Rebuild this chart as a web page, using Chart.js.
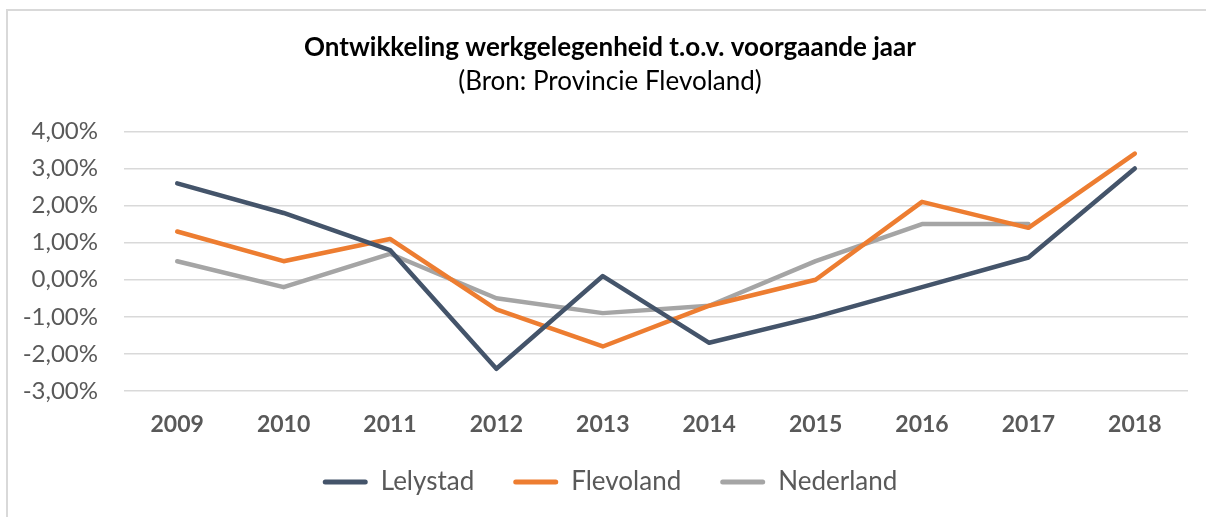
<!DOCTYPE html>
<html>
<head>
<meta charset="utf-8">
<script src="https://cdn.jsdelivr.net/npm/chart.js@4/dist/chart.umd.min.js"></script>
<style>
  html, body { margin: 0; padding: 0; background: #fff; overflow: hidden; }
  #wrap { position: relative; width: 1206px; height: 517px; }
  #frame {
    position: absolute; left: 6px; top: 9px; right: -10px; bottom: -10px;
    border-left: 2px solid #d9d9d9; border-top: 2px solid #d9d9d9;
  }
  #chart-box { position: absolute; left: 0; top: 0; width: 1206px; height: 517px; }
</style>
</head>
<body>
<div id="wrap">
  <div id="frame"></div>
  <div id="chart-box"><canvas id="chart"></canvas></div>
</div>
<script>
const YEARS = ["2009", "2010", "2011", "2012", "2013", "2014", "2015", "2016", "2017", "2018"];
const LELYSTAD = [2.6, 1.8, 0.8, -2.4, 0.1, -1.7, -1.0, -0.2, 0.6, 3.0];
const FLEVOLAND = [1.3, 0.5, 1.1, -0.8, -1.8, -0.7, 0.0, 2.1, 1.4, 3.4];
const NEDERLAND = [0.5, -0.2, 0.7, -0.5, -0.9, -0.7, 0.5, 1.5, 1.5, null];

const SERIES_COLORS = {
  Lelystad: "#44546a",
  Flevoland: "#ed7d31",
  Nederland: "#a5a5a5",
};

const FONT = "Lato, 'Open Sans', sans-serif";
const TEXT_GREY = "#595959";

function pct(v) {
  return v.toFixed(2).replace(".", ",") + "%";
}

function lineSet(label, data) {
  return {
    label,
    data,
    borderColor: SERIES_COLORS[label],
    backgroundColor: SERIES_COLORS[label],
    borderWidth: 4.5,
    borderJoinStyle: "round",
    borderCapStyle: "round",
    pointRadius: 0,
    pointHoverRadius: 0,
    tension: 0,
    spanGaps: false,
  };
}

// title, subtitle and legend are centred over x 32..1188 (like the original),
// and the legend row is pulled up a bit closer to the year labels
const placeBoxes = {
  id: "placeBoxes",
  afterLayout(chart) {
    chart.boxes.forEach((box) => {
      const opts = box.options || {};
      if (opts.text !== undefined || opts.labels) {
        box.left = 32;
        box.right = 1188;
        box.width = box.right - box.left;
      }
      if (opts.labels) {
        const h = box.height;
        box.top = 430;
        box.bottom = 430 + h;
      }
    });
  },
};

const ctx = document.getElementById("chart").getContext("2d");
new Chart(ctx, {
  type: "line",
  data: {
    labels: YEARS,
    datasets: [
      lineSet("Lelystad", LELYSTAD),
      lineSet("Flevoland", FLEVOLAND),
      lineSet("Nederland", NEDERLAND),
    ],
  },
  plugins: [placeBoxes],
  options: {
    responsive: true,
    maintainAspectRatio: false,
    animation: false,
    layout: { padding: { left: 0, right: 18, top: 32, bottom: 3 } },
    plugins: {
      title: {
        display: true,
        text: "Ontwikkeling werkgelegenheid t.o.v. voorgaande jaar",
        color: "#000",
        font: { family: FONT, size: 26, weight: "bold" },
        padding: { top: 0, bottom: 3 },
      },
      subtitle: {
        display: true,
        text: "(Bron: Provincie Flevoland)",
        color: "#000",
        font: { family: FONT, size: 26, weight: "normal" },
        padding: { top: 0, bottom: 34 },
      },
      legend: {
        position: "bottom",
        labels: {
          color: TEXT_GREY,
          font: { family: FONT, size: 26 },
          boxWidth: 45,
          boxHeight: 5,
          padding: 39,
          useBorderRadius: true,
          borderRadius: 2.5,
          generateLabels: (chart) =>
            Chart.defaults.plugins.legend.labels.generateLabels(chart).map((item) => ({
              ...item,
              lineWidth: 0,
            })),
        },
      },
      tooltip: { enabled: false },
    },
    scales: {
      x: {
        offset: true,
        grid: { display: false, drawTicks: false, offset: true },
        border: { display: false },
        ticks: {
          color: TEXT_GREY,
          font: { family: FONT, size: 23, weight: "bold" },
          padding: 20,
          maxRotation: 0,
        },
        afterFit: (scale) => { scale.height = 48; },
      },
      y: {
        min: -3,
        max: 4,
        grid: { color: "#d9d9d9", lineWidth: 1.5, drawTicks: false },
        border: { display: false },
        ticks: {
          stepSize: 1,
          color: TEXT_GREY,
          font: { family: FONT, size: 24 },
          padding: 26,
          callback: (v) => pct(v),
        },
        afterFit: (scale) => { scale.width = 124; },
      },
    },
  },
});
</script>
</body>
</html>
